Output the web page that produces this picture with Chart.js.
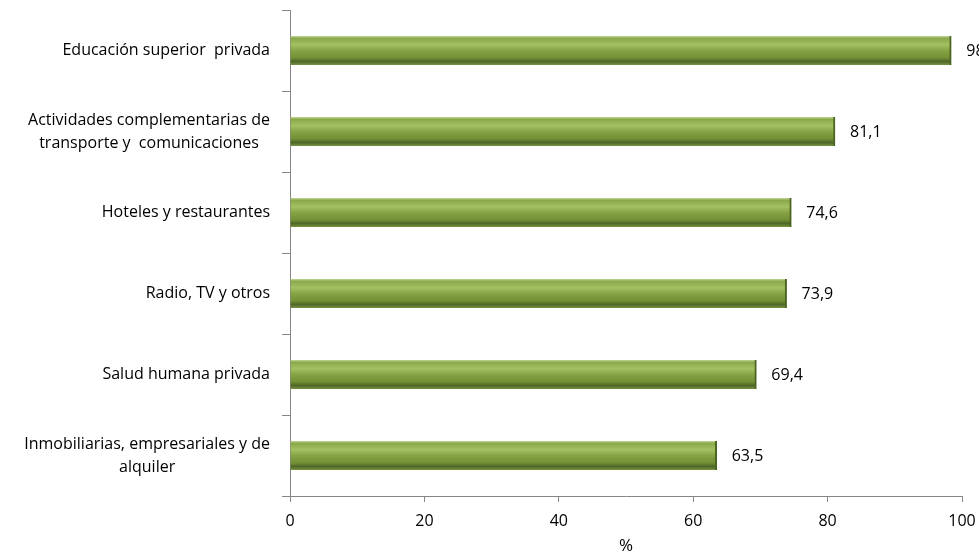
<!DOCTYPE html>
<html>
<head>
<meta charset="utf-8">
<script src="https://cdn.jsdelivr.net/npm/chart.js@4/dist/chart.umd.min.js"></script>
<style>
  html, body { margin: 0; padding: 0; background: #fff; }
  #wrap { width: 979px; height: 558px; }
</style>
</head>
<body>
<div id="wrap"><canvas id="chart"></canvas></div>
<script>
const categorias = [
    "Educación superior  privada",
    ["Actividades complementarias de", "transporte y  comunicaciones"],
    "Hoteles y restaurantes",
    "Radio, TV y otros",
    "Salud humana privada ",
    ["Inmobiliarias, empresariales y de", "alquiler"]
];
const valores = [98.4, 81.1, 74.6, 73.9, 69.4, 63.5];
const ticksX = [0, 20, 40, 60, 80, 100];

const fuente = "'Open Sans', Lato, sans-serif";
const grosor = 29;

// degradado vertical tipo cilindro para cada barra
function degradado(ctx) {
    const chart = ctx.chart;
    const y = chart.scales.y;
    if (!y || ctx.dataIndex === undefined) return '#8aa84a';
    const c = y.getPixelForValue(ctx.dataIndex);
    if (!isFinite(c)) return '#8aa84a';
    const g = chart.ctx.createLinearGradient(0, c - grosor / 2, 0, c + grosor / 2);
    g.addColorStop(0, '#c2d796');
    g.addColorStop(0.08, '#8aa94b');
    g.addColorStop(0.3, '#a3c062');
    g.addColorStop(0.5, '#86a445');
    g.addColorStop(0.75, '#729035');
    g.addColorStop(0.88, '#506728');
    g.addColorStop(1, '#789343');
    return g;
}

// valores a la derecha de cada barra
const etiquetas = {
    id: 'etiquetas',
    afterDatasetsDraw(chart) {
        const ctx = chart.ctx;
        const meta = chart.getDatasetMeta(0);
        ctx.save();
        ctx.font = "16px " + fuente;
        ctx.fillStyle = '#000';
        ctx.textBaseline = 'middle';
        meta.data.forEach((bar, i) => {
            ctx.fillText(valores[i].toFixed(1).replace('.', ','), bar.x + 15, bar.y + 1);
        });
        ctx.restore();
    }
};

// categorías: bloque alineado a la derecha, líneas centradas (como Excel)
const categoriasEje = {
    id: 'categoriasEje',
    afterDraw(chart) {
        const ctx = chart.ctx;
        const y = chart.scales.y;
        const derecha = 270;
        const alto = 23;
        ctx.save();
        ctx.font = "16px " + fuente;
        ctx.fillStyle = '#000';
        ctx.textBaseline = 'middle';
        ctx.textAlign = 'center';
        categorias.forEach((c, i) => {
            const lineas = Array.isArray(c) ? c : [c];
            const ancho = Math.max(...lineas.map(l => ctx.measureText(l.trimEnd()).width));
            const cx = derecha - ancho / 2;
            const cy = y.getPixelForValue(i);
            lineas.forEach((l, k) => {
                ctx.fillText(l.trimEnd(), cx, cy + (k - (lineas.length - 1) / 2) * alto);
            });
        });
        ctx.restore();
    }
};

const config = {
    type: 'bar',
    data: {
        labels: categorias,
        datasets: [{
            data: valores,
            backgroundColor: degradado,
            borderColor: '#4a6420',
            borderWidth: { right: 2, top: 0, bottom: 0, left: 0 },
            borderSkipped: false,
            barThickness: grosor
        }]
    },
    options: {
        indexAxis: 'y',
        responsive: true,
        maintainAspectRatio: false,
        animation: false,
        layout: { padding: { top: 10, right: 17, left: 0, bottom: 2 } },
        plugins: { legend: { display: false }, tooltip: { enabled: false } },
        scales: {
            x: {
                min: 0, max: 100,
                afterBuildTicks(s) { s.ticks = ticksX.map(v => ({ value: v })); },
                afterFit(s) { s.height = 60; s.paddingLeft = 0; s.paddingRight = 0; },
                border: { color: '#868686', width: 1 },
                grid: { drawOnChartArea: false, drawTicks: true, tickLength: 6, color: '#868686' },
                ticks: { color: '#000', font: { family: fuente, size: 16 }, padding: 10 },
                title: { display: true, text: '%', color: '#000', font: { family: fuente, size: 17 }, padding: { top: 0, bottom: 0 } }
            },
            y: {
                afterFit(s) { s.width = 290; s.paddingTop = 0; s.paddingBottom = 0; },
                border: { color: '#868686', width: 1 },
                grid: { drawOnChartArea: false, drawTicks: true, tickLength: 8, color: '#868686', offset: true },
                ticks: { display: false }
            }
        }
    },
    plugins: [etiquetas, categoriasEje]
};

const chart = new Chart(document.getElementById('chart').getContext('2d'), config);
</script>
</body>
</html>
